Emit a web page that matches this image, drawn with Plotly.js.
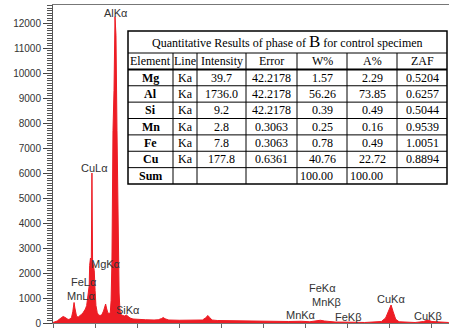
<!DOCTYPE html>
<html><head><meta charset="utf-8">
<script src="https://cdn.plot.ly/plotly-3.0.1.min.js"></script>
<style>html,body{margin:0;padding:0;background:#fff}#chart{width:449px;height:329px}</style>
</head><body><div id="chart"></div>
<script>
// Spectrum (energy in keV, counts)
const energy = [0.00,0.05,0.10,0.15,0.20,0.24,0.28,0.32,0.36,0.40,0.44,0.47,0.49,0.50,0.52,0.54,0.56,0.60,0.64,0.68,0.71,0.74,0.77,0.80,0.82,0.84,0.86,0.87,0.89,0.91,0.925,0.94,0.96,0.98,1.00,1.02,1.05,1.08,1.12,1.16,1.20,1.23,1.25,1.27,1.30,1.33,1.36,1.38,1.40,1.425,1.449,1.473,1.496,1.52,1.544,1.57,1.59,1.62,1.66,1.70,1.74,1.78,1.83,1.90,2.00,2.20,2.40,2.50,2.58,2.62,2.66,2.75,3.00,3.20,3.40,3.55,3.62,3.68,3.72,3.78,3.90,4.20,4.50,4.80,5.00,5.30,5.60,5.90,6.10,6.35,6.45,6.70,7.00,7.20,7.40,7.60,7.80,7.90,7.97,8.03,8.08,8.14,8.22,8.40,8.60,8.80,8.90,9.00,9.20,9.40];
const counts = [20,40,80,150,200,260,230,170,140,160,220,450,700,820,600,380,260,240,280,350,400,460,560,700,1000,1300,1500,2300,2600,2400,6000,2500,2300,2100,1300,700,420,320,300,330,480,700,760,600,420,380,400,900,2500,7700,9300,12250,11500,7700,3500,1200,500,330,300,280,320,260,200,160,140,130,120,130,180,220,170,120,110,110,100,120,200,300,220,120,100,90,80,80,70,70,60,70,50,110,80,40,50,30,20,40,60,200,500,720,450,150,50,30,20,60,120,60,30,20];

// Peak labels
const peakNames = ['AlKα','CuLα','MgKα','FeLα','MnLα','SiKα','MnKα','FeKα','MnKβ','FeKβ','CuKα','CuKβ'];
const peakX = [1.496,0.974,1.27,0.736,0.665,1.77,5.90,6.40,6.50,7.03,8.04,8.91];
const peakY = [12420,6200,2380,1640,1080,540,340,1400,840,260,960,300];

// Table values
const tableTitle = 'Quantitative Results of phase of <span style="font-size:17px">B</span> for control specimen';
const headers = ['Element','Line','Intensity','Error','W%','A%','ZAF'];
const elements = ['Mg','Al','Si','Mn','Fe','Cu','Sum'];
const lines = ['Ka','Ka','Ka','Ka','Ka','Ka',''];
const intensity = ['39.7','1736.0','9.2','2.8','7.8','177.8',''];
const errors = ['42.2178','42.2178','42.2178','0.3063','0.3063','0.6361',''];
const wPct = ['1.57','56.26','0.39','0.25','0.78','40.76','100.00'];
const aPct = ['2.29','73.85','0.49','0.16','0.49','22.72','100.00'];
const zaf = ['0.5204','0.6257','0.5044','0.9539','1.0051','0.8894',''];

const L = 53, T = 5, W = 396, H = 318;
const px = x => (x - L) / W;
const py = y => (T + H - y) / H;

const annotations = [];
const labelFont = {family: 'Liberation Sans, Arial, sans-serif', size: 11, color: '#333'};
peakNames.forEach((n, i) => annotations.push({x: peakX[i], y: peakY[i], xref: 'x', yref: 'y', text: n, showarrow: false, xanchor: 'center', yanchor: 'middle', font: labelFont}));

// table geometry
const tx0 = 128, tx1 = 447, ty0 = 31, ty1 = 184, titleBottom = 53;
const colX = [128, 173, 197, 246, 297, 347, 397, 447];
const nRows = 8, rowH = (ty1 - titleBottom) / nRows;
const shapes = [];
shapes.push({type: 'rect', xref: 'paper', yref: 'paper', x0: px(tx0), x1: px(tx1), y0: py(ty0), y1: py(ty1), fillcolor: '#fff', line: {color: '#000', width: 1.5}});
shapes.push({type: 'line', xref: 'paper', yref: 'paper', x0: px(tx0), x1: px(tx1), y0: py(titleBottom), y1: py(titleBottom), line: {color: '#000', width: 1}});
for (let r = 1; r < nRows; r++) {
  const yy = titleBottom + r * rowH;
  shapes.push({type: 'line', xref: 'paper', yref: 'paper', x0: px(tx0), x1: px(tx1), y0: py(yy), y1: py(yy), line: {color: '#000', width: r === 1 ? 2 : 1}});
}
for (let c = 1; c < colX.length - 1; c++) {
  shapes.push({type: 'line', xref: 'paper', yref: 'paper', x0: px(colX[c]), x1: px(colX[c]), y0: py(titleBottom), y1: py(ty1), line: {color: '#000', width: 1}});
}
const serif = 'Liberation Serif, Times New Roman, serif';
annotations.push({xref: 'paper', yref: 'paper', x: px((tx0 + tx1) / 2), y: py((ty0 + titleBottom) / 2), text: tableTitle, showarrow: false, xanchor: 'center', yanchor: 'middle', font: {family: serif, size: 12, color: '#000'}});
const columns = [elements, lines, intensity, errors, wPct, aPct, zaf];
function cell(c, r, txt, bold, left) {
  const yy = titleBottom + r * rowH + rowH / 2;
  annotations.push({xref: 'paper', yref: 'paper', x: left ? px(colX[c] + 1) : px((colX[c] + colX[c + 1]) / 2), y: py(yy), text: bold ? '<b>' + txt + '</b>' : txt, showarrow: false, xanchor: left ? 'left' : 'center', yanchor: 'middle', font: {family: serif, size: 12, color: '#000'}});
}
headers.forEach((h, c) => cell(c, 0, h, false, false));
columns.forEach((col, c) => col.forEach((v, r) => { if (v !== '') cell(c, r + 1, v, c === 0, r === 6 && (c === 4 || c === 5)); }));

const trace = {x: energy, y: counts, type: 'scatter', mode: 'lines', fill: 'tozeroy', line: {color: '#ed1c24', width: 1}, fillcolor: '#ed1c24', hoverinfo: 'skip'};

const layout = {
  width: 449, height: 329,
  margin: {l: L, r: 0, t: T, b: 329 - T - H, pad: 0},
  paper_bgcolor: '#fff', plot_bgcolor: '#fff',
  showlegend: false,
  xaxis: {range: [0, 9.406], dtick: 1, tick0: 0, ticks: 'outside', ticklen: 4, tickcolor: '#666', showticklabels: false, showline: true, linecolor: '#777', linewidth: 1, mirror: true, showgrid: false, zeroline: false},
  yaxis: {range: [0, 12720], dtick: 1000, tick0: 0, tickformat: 'd', ticks: 'outside', ticklen: 9, tickcolor: '#444', showline: true, linecolor: '#555', linewidth: 1, showgrid: false, zeroline: false,
    tickfont: {family: 'Liberation Sans, Arial, sans-serif', size: 10, color: '#333'},
    minor: {dtick: 100, ticks: 'outside', ticklen: 5, tickcolor: '#555', showgrid: false}},
  shapes: shapes,
  annotations: annotations
};
Plotly.newPlot('chart', [trace], layout, {staticPlot: true, displayModeBar: false});
</script></body></html>
